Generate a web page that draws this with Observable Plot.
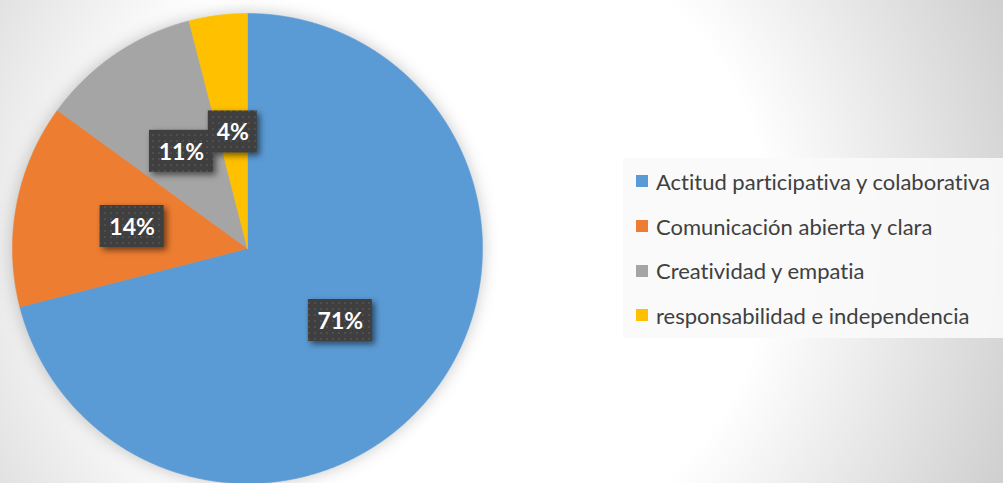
<!DOCTYPE html>
<html><head><meta charset="utf-8">
<script src="https://cdn.jsdelivr.net/npm/d3@7"></script>
<script src="https://cdn.jsdelivr.net/npm/@observablehq/plot@0.6"></script>
<style>
body{margin:0;}
#wrap{position:relative;width:1003px;height:483px;overflow:hidden;background:radial-gradient(circle 654px at 440px 240px,#ffffff 330px,#c8c8c8 654px);}
#chart{position:absolute;left:0;top:0;}
#legend{position:absolute;left:623px;top:158px;width:380px;height:180px;background:rgba(250,250,250,0.9);box-sizing:border-box;padding:1px 0 0 13px;}
#legend .lg-swatches{font-family:Lato,"Open Sans",sans-serif !important;font-size:22px !important;color:#404040;margin:0 !important;min-height:0 !important;font-variant-ligatures:none;}
#legend .lg-swatch{height:44.7px;margin:0 !important;padding:0 !important;display:flex;align-items:center;white-space:nowrap;}
#legend .lg-swatch svg{margin-right:8px !important;}
g[aria-label="line"]{filter:drop-shadow(0 0 8px rgba(0,0,0,0.22));}
g[aria-label="rect"]{filter:drop-shadow(3px 3px 3px rgba(0,0,0,0.55));}
</style></head><body>
<div id="wrap"><div id="chart"></div><div id="legend"></div></div>
<script>
const categories = ["Actitud participativa y colaborativa","Comunicación abierta y clara","Creatividad y empatia","responsabilidad e independencia"];
const values = [71, 14, 11, 4];
const colors = ["#5B9BD5","#ED7D31","#A5A5A5","#FFC000"];

const total = d3.sum(values);
const arcs = d3.pie().sort(null).startAngle(0).endAngle(2*Math.PI)(values);

// slice outlines in unit coordinates (0 angle at top, clockwise)
const slicePts = [];
arcs.forEach((a, i) => {
  const cat = categories[i];
  slicePts.push({cat, x: 0, y: 0});
  const n = Math.max(4, Math.ceil((a.endAngle - a.startAngle) / (Math.PI/720)));
  for (let k = 0; k <= n; k++) {
    const t = a.startAngle + (a.endAngle - a.startAngle) * k / n;
    slicePts.push({cat, x: Math.sin(t), y: Math.cos(t)});
  }
  slicePts.push({cat, x: 0, y: 0});
});

const R = 235; // pixels per unit
const labelData = arcs.map((a, i) => {
  const m = (a.startAngle + a.endAngle) / 2;
  const label = d3.format(".0%")(values[i] / total);
  const hw = (label.length * 15 + 19) / 2 / R, hh = 21 / R;
  const x = 0.5 * Math.sin(m), y = 0.5 * Math.cos(m);
  return {label, x, y, x1: x - hw, x2: x + hw, y1: y - hh, y2: y + hh};
});

const chart = Plot.plot({
  width: 1003, height: 483,
  marginLeft: 12, marginRight: 521, marginTop: 13, marginBottom: 0,
  x: {domain: [-1, 1], axis: null},
  y: {domain: [-1, 1], axis: null},
  color: {domain: categories, range: colors},
  style: {background: "transparent", overflow: "visible"},
  marks: [
    Plot.line(slicePts, {x: "x", y: "y", z: "cat", fill: "cat", stroke: "cat", strokeWidth: 0.6}),
    Plot.rect(labelData, {x1: "x1", x2: "x2", y1: "y1", y2: "y2", fill: "url(#dots)"}),
    Plot.text(labelData, {x: "x", y: "y", text: "label", fill: "white", fontSize: 23, fontWeight: "bold", fontFamily: "Lato", dy: 1})
  ]
});

const defs = d3.select(chart).insert("defs", ":first-child");
const pat = defs.append("pattern").attr("id", "dots").attr("width", 6).attr("height", 6).attr("patternUnits", "userSpaceOnUse");
pat.append("rect").attr("width", 6).attr("height", 6).attr("fill", "#3f3f3f");
pat.append("rect").attr("x", 2).attr("y", 2).attr("width", 2).attr("height", 2).attr("fill", "#4f4f4f");

document.getElementById("chart").appendChild(chart);

const legend = Plot.legend({
  color: {domain: categories, range: colors},
  legend: "swatches", columns: 1, swatchSize: 12, className: "lg"
});
document.getElementById("legend").appendChild(legend);
</script>
</body></html>
